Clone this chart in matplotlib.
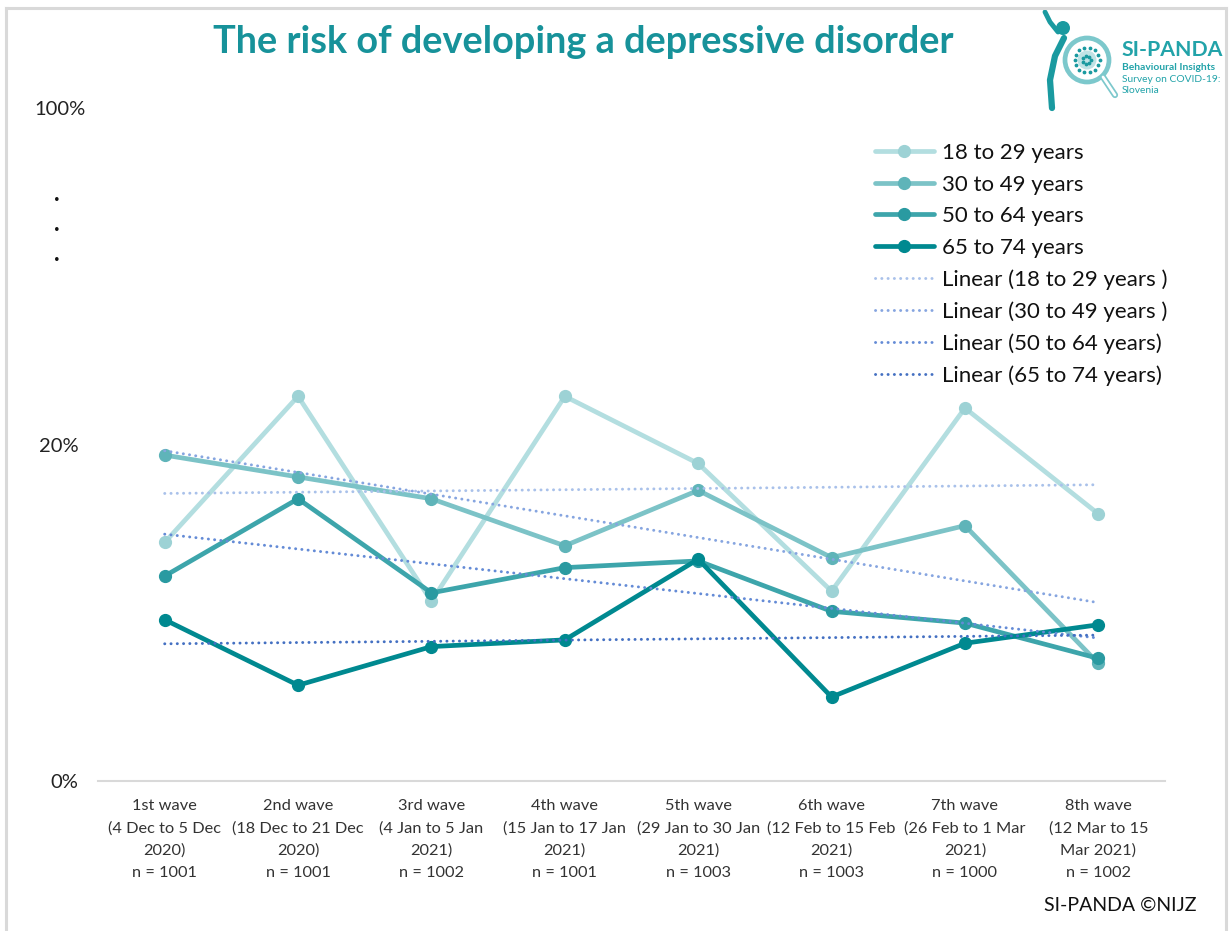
import numpy as np
import matplotlib
matplotlib.use("Agg")
import matplotlib.pyplot as plt
from matplotlib.lines import Line2D
from matplotlib.patches import Circle
from matplotlib.transforms import ScaledTranslation

plt.rcParams['font.family'] = ['Lato', 'DejaVu Sans']

# ---- data -------------------------------------------------------------
waves = [
    "1st wave\n(4 Dec to 5 Dec\n2020)\nn = 1001",
    "2nd wave\n(18 Dec to 21 Dec\n2020)\nn = 1001",
    "3rd wave\n(4 Jan to 5 Jan\n2021)\nn = 1002",
    "4th wave\n(15 Jan to 17 Jan\n2021)\nn = 1001",
    "5th wave\n(29 Jan to 30 Jan\n2021)\nn = 1003",
    "6th wave\n(12 Feb to 15 Feb\n2021)\nn = 1003",
    "7th wave\n(26 Feb to 1 Mar\n2021)\nn = 1000",
    "8th wave\n(12 Mar to 15\nMar 2021)\nn = 1002",
]
age_18_29 = [14.2, 22.9, 10.7, 22.9, 18.9, 11.3, 22.2, 15.9]
age_30_49 = [19.4, 18.1, 16.8, 14.0, 17.3, 13.3, 15.2, 7.0]
age_50_64 = [12.2, 16.8, 11.2, 12.7, 13.1, 10.1, 9.4, 7.3]
age_65_74 = [9.6, 5.7, 8.0, 8.4, 13.2, 5.0, 8.2, 9.3]

series_names = ["18 to 29 years", "30 to 49 years", "50 to 64 years", "65 to 74 years"]
trend_names = ["Linear (18 to 29 years )", "Linear (30 to 49 years )",
               "Linear (50 to 64 years)", "Linear (65 to 74 years)"]
y_tick_labels = ["0%", "20%", "100%"]

# ---- styling ----------------------------------------------------------
line_colors = ["#b3dee0", "#7cc3c7", "#3da5ab", "#008990"]
marker_colors = ["#9dd2d5", "#5fb4b9", "#2a9aa1", "#008990"]
trend_colors = ["#a9c1ea", "#86a5e0", "#648bd6", "#4470c2"]
title_color = "#17929a"

W, H = 1229, 931
fig = plt.figure(figsize=(W / 100, H / 100), dpi=100)
fig.patch.set_facecolor("white")

ax_left, ax_right = 98 / W, 1165 / W
ax_bottom, ax_top = 1 - 781 / H, 1 - 108 / H
ax = fig.add_axes([ax_left, ax_bottom, ax_right - ax_left, ax_top - ax_bottom])

x = np.arange(len(waves)) + 0.5
data = [age_18_29, age_30_49, age_50_64, age_65_74]

handles = []
for vals, lc, mc, name in zip(data, line_colors, marker_colors, series_names):
    h, = ax.plot(x, vals, color=lc, lw=3.4, marker="o", ms=8.5,
                 mfc=mc, mec=mc, solid_capstyle="round", label=name, zorder=3)
    handles.append(h)

trend_handles = []
for vals, tc, name in zip(data, trend_colors, trend_names):
    coef = np.polyfit(x, vals, 1)
    h, = ax.plot(x, np.polyval(coef, x), color=tc, lw=2.1,
                 linestyle=(0, (0.05, 2.1)), dash_capstyle="round",
                 label=name, zorder=4)
    trend_handles.append(h)

# Axis break: 0–20 % is drawn to scale, the top label stands for 100 %
span = 20 * (781 - 108) / (781 - 445)
ax.set_ylim(0, span)
ax.set_xlim(0, len(waves))
ax.set_yticks([0, 20, span])
ax.set_yticklabels(y_tick_labels, fontsize=14.5, color="#222222")
ax.set_xticks(x)
ax.set_xticklabels(waves, fontsize=11.8, color="#333333", linespacing=1.72)
ax.tick_params(axis="both", length=0)
ax.tick_params(axis="y", pad=14)
ax.tick_params(axis="x", pad=13)
for s in ["top", "right", "left"]:
    ax.spines[s].set_visible(False)
ax.spines["bottom"].set_color("#d9d9d9")
ax.spines["bottom"].set_linewidth(1.5)

# nudge the "100%" label to the right
top_lbl = ax.get_yticklabels()[-1]
top_lbl.set_transform(top_lbl.get_transform() +
                      ScaledTranslation(7 / 100, 0, fig.dpi_scale_trans))

for yv in [34.76, 32.98, 31.19]:
    fig.text(57 / W, 1 - (785 - yv * (336 / 20)) / H, ".", fontsize=17,
             fontweight="bold", ha="center", va="baseline", color="#111111")

leg = ax.legend(handles=handles + trend_handles, loc="upper left",
                bbox_to_anchor=(875 / W, 1 - 143 / H),
                bbox_transform=fig.transFigure, frameon=False,
                fontsize=16, handlelength=2.65, handletextpad=0.36,
                labelspacing=0.52, borderpad=0, borderaxespad=0)
for t in leg.get_texts():
    t.set_color("#111111")

fig.text(583 / W, 1 - 42 / H, "The risk of developing a depressive disorder",
         ha="center", va="center", fontsize=27.3, fontweight="bold", color=title_color)

fig.text(1120 / W, 1 - 905 / H, "SI-PANDA ©NIJZ", ha="center", va="center",
         fontsize=14, color="#111111")

# frame around the slide
frame_kw = dict(color="#d9d9d9", lw=2.2, transform=fig.transFigure)
fig.add_artist(Line2D([5.5 / W, 5.5 / W], [0, 1 - 7.5 / H], **frame_kw))
fig.add_artist(Line2D([5.5 / W, 1226 / W], [1 - 7.5 / H, 1 - 7.5 / H], **frame_kw))
fig.add_artist(Line2D([1226 / W, 1226 / W], [0, 1 - 7.5 / H], **frame_kw))

# SI-PANDA logo
lg = fig.add_axes([1038 / W, 1 - 112 / H, 190 / W, 104 / H])
lg.set_xlim(0, 190)
lg.set_ylim(104, 0)
lg.set_aspect("equal")
lg.axis("off")
teal = "#1a9aa0"
light = "#7cc8cc"
lg.add_patch(Circle((49, 52), 22, fill=False, ec=light, lw=3.4))
lg.add_patch(Circle((49, 52), 9.5, fc="#bfe3e5", ec="none"))
ang = np.linspace(0, 2 * np.pi, 14, endpoint=False)
lg.scatter(49 + 12.5 * np.cos(ang), 52 + 12.5 * np.sin(ang), s=3, color=teal)
lg.scatter(49 + 4 * np.cos(ang[::2]), 52 + 4 * np.sin(ang[::2]), s=3, color=teal)
lg.plot([65, 77], [69, 87], color=light, lw=4.5, solid_capstyle="round")
lg.plot([65, 77], [69, 87], color="white", lw=2.0, solid_capstyle="round")
lg.add_patch(Circle((25, 20), 7, fc=teal, ec="none"))
lg.plot([7, 12, 20], [4, 14, 24], color=teal, lw=3.5, solid_capstyle="round")
lg.plot([26, 17, 12, 14], [30, 48, 72, 100], color=teal, lw=4.5, solid_capstyle="round")
lg.text(84, 48, "SI-PANDA", fontsize=15.3, fontweight="bold", color="#22a3a9",
        va="baseline", ha="left")
for i, s in enumerate(["Behavioural Insights", "Survey on COVID-19:", "Slovenia"]):
    lg.text(84, 62 + i * 11.5, s, fontsize=7.4, color="#22a3a9", va="baseline",
            ha="left", fontweight="bold" if i == 0 else "normal")

fig.savefig("out.png", dpi=100, facecolor="white")
